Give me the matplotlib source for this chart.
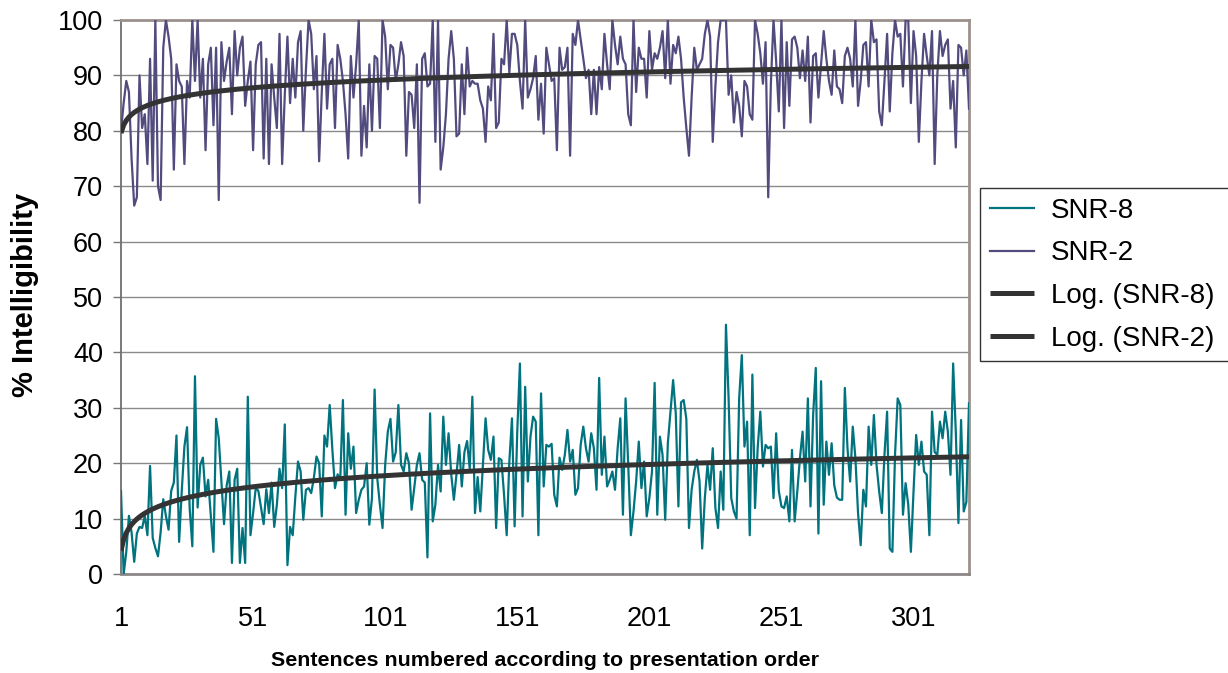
import numpy as np
import matplotlib
matplotlib.use("Agg")
import matplotlib.pyplot as plt

plt.rcParams["font.family"] = ["Liberation Sans", "DejaVu Sans"]

# % intelligibility per sentence, in presentation order
snr2 = [
    80, 85, 89, 87, 75, 66.5, 68, 90, 80.5, 83,
    74, 93, 71, 100, 70, 67.5, 95, 100, 97, 93,
    73, 92, 89, 88, 74, 89, 86, 100, 89, 100,
    86, 93, 76.5, 92, 95, 81, 95, 67.5, 96, 89,
    92.5, 95, 83, 98, 90, 95, 97, 84.5, 89, 92.5,
    76.5, 92, 95.5, 96, 75, 93, 74, 92, 86, 80.5,
    97.5, 74, 86.5, 97, 85, 93, 86, 96, 98, 80,
    91, 100, 97.5, 87.5, 93.5, 74.5, 87, 97.5, 84, 92,
    93, 80.5, 95.5, 93, 89, 83, 75, 93.5, 86, 92,
    100, 75.5, 84.5, 77, 92, 80, 93.5, 93, 80.5, 100,
    97, 87.5, 95.5, 95, 89, 92, 96, 93.5, 75.5, 87,
    86.5, 80.5, 92, 67, 93, 94, 88, 88.5, 100, 78,
    100, 73, 77, 83, 93, 98, 93, 79, 79.5, 92,
    83, 95, 88, 89, 88.5, 88.5, 85.5, 84, 78, 88,
    85.5, 97.5, 80.5, 81.5, 93, 92, 100, 90.5, 97.5, 97.5,
    95.5, 89, 84, 100, 86, 87.5, 89.5, 93.5, 82, 88.5,
    79.5, 95, 92, 89, 89.5, 76.5, 95, 91, 91.5, 95,
    75.5, 97.5, 95.5, 100, 96.5, 93, 89.5, 91, 83, 91,
    83, 91.5, 87.5, 97.5, 92, 87.5, 100, 95.5, 92, 97,
    93, 92, 83, 81, 100, 87, 95, 93, 93, 86,
    98, 91, 94, 93, 95, 98, 89.5, 100, 88.5, 95.5,
    94, 97, 93, 86, 80.5, 75.5, 86, 95, 91, 92,
    93, 97.5, 100, 97, 78, 88, 96, 100, 100, 100,
    86.5, 90, 81.5, 87, 84.5, 79, 89, 88, 83, 82,
    100, 97.5, 94, 88.5, 96, 68, 88.5, 100, 92.5, 83.5,
    100, 80.5, 96, 84.5, 96.5, 97, 95, 89.5, 94.5, 89,
    97, 81.5, 93.5, 94, 86, 92, 98, 93, 89, 86.5,
    94.5, 88, 87.5, 85, 93.5, 95, 93, 88, 100, 84.5,
    89, 95.5, 96, 88, 100, 96, 96.5, 83.5, 81, 89,
    97.5, 83.5, 94, 100, 97, 97.5, 88, 100, 100, 85,
    98, 93.5, 78, 89, 97.5, 93.5, 90, 98, 74, 90,
    98, 93.5, 95.5, 96.5, 84, 89, 77, 95.5, 95, 90,
    94.5, 84,
]

snr8 = [
    15, 0, 4, 10.5, 7.5, 2.2, 7.3, 8.5, 8.3, 10.5,
    7, 19.5, 6.5, 4.7, 3.2, 7.5, 13.5, 10.5, 8, 15,
    16.5, 25, 5.8, 15, 23, 26.5, 11.8, 5, 35.7, 12,
    19.7, 21, 14, 17, 10.6, 4, 28, 24.5, 16.7, 9,
    16, 18.5, 2, 17, 19, 2, 8.3, 2, 32, 7,
    11, 15.5, 15, 12, 9, 15.3, 11, 16.5, 8.5, 12.5,
    19, 15.5, 27, 1.6, 8.5, 7, 14, 20.3, 18.5, 9.8,
    15.2, 15.5, 14.6, 17.3, 21.2, 20, 10.4, 25, 23, 30.5,
    22.5, 15.5, 18, 17, 31.4, 10.7, 25.4, 19, 23, 11,
    13.4, 15.2, 15.8, 20, 8.9, 13.7, 33.3, 17.3, 12.5, 8.3,
    19.7, 25.7, 28, 20.3, 22, 30.5, 19.7, 18.5, 21.8, 20,
    11.6, 15.5, 19.7, 21.8, 17, 16.5, 3, 29, 9.5, 12.5,
    19.7, 14.9, 28.4, 19.7, 25.4, 18, 13.4, 18, 23.3, 15.8,
    22, 24, 19, 32, 11, 17.5, 11.3, 19.7, 28.1, 22.4,
    20.6, 24.8, 8.3, 20.9, 20.6, 14.3, 7, 20.3, 28.1, 8.6,
    25.7, 38, 10.4, 33.8, 16.7, 24.8, 28.4, 27.5, 7, 32.6,
    15.8, 23.3, 23, 23.5, 14.3, 12.2, 21, 18.8, 21.5, 26,
    20.3, 22.4, 14.3, 15.5, 23.3, 26.6, 22.7, 20.3, 25.4, 22.7,
    15.2, 35.4, 17.9, 24.8, 15.8, 17, 18.5, 15.2, 22.7, 28.1,
    10.7, 31.7, 19.7, 7, 11.3, 16.7, 23.9, 15.5, 20.3, 10.4,
    13.7, 18.5, 34.5, 10.7, 24.8, 21.5, 9.8, 23.6, 29.3, 35,
    29, 12.2, 31, 31.4, 28, 8.3, 15.2, 18.5, 20.6, 16.7,
    4.6, 13.7, 19.7, 15.2, 22.7, 11.9, 8.3, 18.5, 11.6, 45,
    31.7, 13.7, 11.3, 10, 31.7, 39.5, 23, 27.5, 7, 36,
    11.9, 22.7, 29.3, 19.4, 23.3, 22.7, 23, 13.7, 25.4, 15,
    12.2, 11.9, 14, 9.5, 22.4, 9.5, 14.9, 20.9, 25.7, 16.7,
    31.7, 12.2, 28.7, 37.2, 7.3, 34.8, 12.5, 23.9, 17.9, 23.6,
    16, 13.8, 13.4, 13.4, 33.6, 22.7, 16.7, 26.6, 20.9, 11,
    5.2, 15.2, 12.2, 26.6, 19.7, 28.7, 19.7, 14.9, 11, 21.5,
    29.3, 4.6, 4, 21.5, 31.7, 30.5, 10.7, 16.4, 12.5, 4,
    14.9, 25.1, 19.7, 23.9, 18.5, 17.9, 7, 29.3, 22, 21.5,
    27.5, 24.5, 29.3, 25.7, 17.9, 38, 25.7, 9.2, 27.8, 11.3,
    13, 30.8,
]

x_tick_labels = ["1", "51", "101", "151", "201", "251", "301"]
y_ticks = list(range(0, 101, 10))

sentence = np.arange(1, len(snr8) + 1)

col_snr8 = "#00737F"
col_snr2 = "#514B7E"
col_trend = "#333333"

W, H = 1228, 673
fig = plt.figure(figsize=(W / 100, H / 100), dpi=100)
ax = fig.add_axes([121 / W, 1 - 574 / H, (969 - 121) / W, (574 - 20) / H])

ax.plot(sentence, snr8, color=col_snr8, lw=1.6, label="SNR-8", zorder=3)
ax.plot(sentence, snr2, color=col_snr2, lw=1.6, label="SNR-2", zorder=3)

# logarithmic trendlines: y = a*ln(x) + b
for series, name in ((snr8, "Log. (SNR-8)"), (snr2, "Log. (SNR-2)")):
    a, b = np.polyfit(np.log(sentence), np.asarray(series, float), 1)
    ax.plot(sentence, a * np.log(sentence) + b, color=col_trend, lw=3.6,
            label=name, zorder=4, solid_capstyle="butt")

ax.set_xlim(1, len(sentence))
ax.set_ylim(0, 100)
ax.set_yticks(y_ticks)
ax.set_xticks([int(t) for t in x_tick_labels])
ax.set_xticklabels(x_tick_labels)
ax.grid(axis="y", color="#8a8a8a", lw=1.0, zorder=1)
ax.tick_params(axis="y", labelsize=19.5, length=6, width=1, color="#777777",
               pad=7)
ax.tick_params(axis="x", labelsize=19.5, length=0, pad=23)

for side in ("top", "right"):
    ax.spines[side].set_color("#9c918c")
    ax.spines[side].set_linewidth(2)
ax.spines["bottom"].set_color("#8c8888")
ax.spines["bottom"].set_linewidth(2)
ax.spines["left"].set_color("#707070")
ax.spines["left"].set_linewidth(1.3)

fig.text(545 / W, 1 - 660 / H, "Sentences numbered according to presentation order",
         ha="center", va="center", fontsize=15.4, fontweight="bold")
fig.text(25 / W, 1 - 295 / H, "% Intelligibility", ha="center", va="center",
         rotation=90, fontsize=21, fontweight="bold")

leg = fig.legend(loc="upper left", bbox_to_anchor=(980 / W, 1 - 188 / H, 270 / W, 0),
                 mode="expand", fontsize=20, frameon=True, fancybox=False,
                 handlelength=1.6, handletextpad=0.6, labelspacing=0.6,
                 borderpad=0.35, borderaxespad=0)
leg.get_frame().set_edgecolor("#000000")
leg.get_frame().set_linewidth(1.0)

fig.savefig("out.png", dpi=100)
